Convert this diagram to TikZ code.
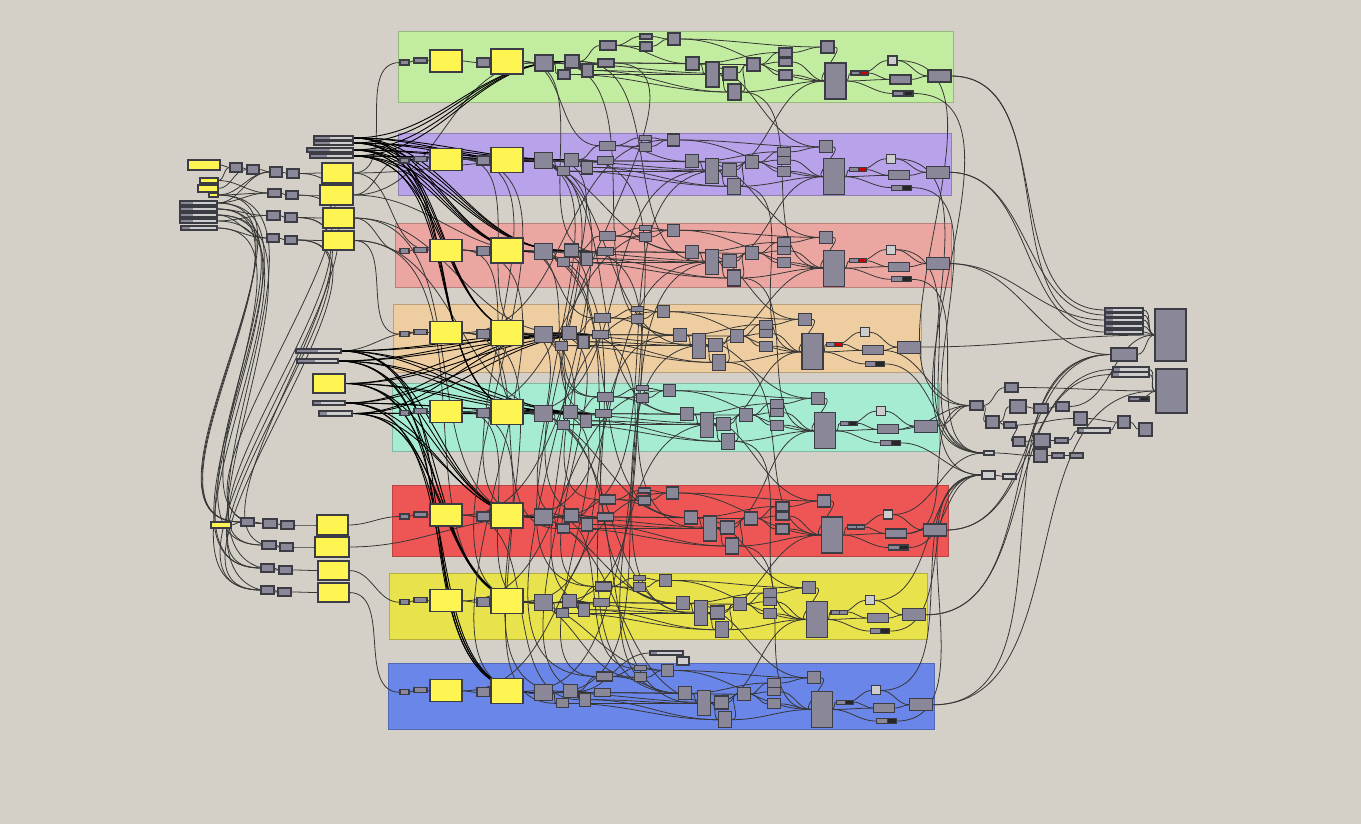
\documentclass[tikz,border=0pt]{standalone}
\usetikzlibrary{calc}

% colours of the canvas
\definecolor{canvas}{HTML}{D4D0C8}
\definecolor{compfill}{HTML}{8A8898}
\definecolor{compline}{HTML}{3C3C44}
\definecolor{panelfill}{HTML}{FFF552}
\definecolor{lightfill}{HTML}{CDCDCD}
\definecolor{wirecol}{HTML}{363636}
\definecolor{grpgreen}{HTML}{C2ECA0}
\definecolor{grppurple}{HTML}{B8A2EA}
\definecolor{grppink}{HTML}{ECA6A2}
\definecolor{grporange}{HTML}{EECEA0}
\definecolor{grpmint}{HTML}{A6ECD2}
\definecolor{grpred}{HTML}{EE5656}
\definecolor{grpyellow}{HTML}{E8E24C}
\definecolor{grpblue}{HTML}{6A86E8}

\pgfdeclarelayer{groups}
\pgfdeclarelayer{wires}
\pgfsetlayers{groups,wires,main}

\tikzset{
  comp/.style={draw=compline, fill=compfill, line width=0.6pt, inner sep=0pt, outer sep=0pt},
  panel/.style={comp, fill=panelfill},
  lightbox/.style={comp, fill=lightfill},
  redbox/.style={comp, fill=red!80!black},
  darkbox/.style={comp, fill=black!85},
  slider/.style={comp, fill=lightfill, path picture={\fill[compfill] (path picture bounding box.south west) rectangle ($(path picture bounding box.north west)!#1!(path picture bounding box.north east)$);}},
  slider/.default=0.35,
  wire/.style={draw=wirecol, line width=0.45pt},
  heavywire/.style={draw=black, line width=0.5pt}
}

% box from corner (x1,y1) to corner (x2,y2), in pixels
\newcommand{\cbox}[6][comp]{\node[#1, minimum width={(#5-#3)*0.02cm}, minimum height={(#6-#4)*0.02cm}] (#2) at ({(#3+#5)/2},{(#4+#6)/2}) {};}

% wires from east to west, names with a common prefix
\newcommand{\linkset}[3][wire]{%
  \begin{pgfonlayer}{wires}
    \foreach \src/\dst in {#3} {\draw[#1] (#2\src.east) to[out=0,in=180] (#2\dst.west);}
  \end{pgfonlayer}}
\newcommand{\links}[2][wire]{\linkset[#1]{}{#2}}

% one coloured group: prefix, x, y, width, height, colour, style of the small tip
\newcommand{\grp}[7]{%
  \begin{pgfonlayer}{groups}
    \fill[#6, draw=#6!78!black, line width=0.5pt] (#2,#3) rectangle ++(#4,#5);
  \end{pgfonlayer}
  \pgfmathsetmacro\grpxs{(#2+#4-398-137)/418}
  \pgfmathsetmacro\grpx{398+137*(1-\grpxs)}
  \pgfmathsetmacro\grpys{#5/71}
  % inputs and the two panels keep their place
  \begin{scope}[shift={(398,#3)}, yscale=\grpys]
    \cbox{#1a}{2}{29}{11}{34}
    \cbox{#1b}{16}{27}{29}{32}
    \cbox[panel]{#1pa}{32}{19}{64}{41}
    \cbox{#1c}{79}{27}{92}{36}
    \cbox[panel]{#1pb}{93}{18}{125}{43}
  \end{scope}
  % the rest follows the width of the group
  \begin{scope}[shift={(\grpx,#3)}, xscale=\grpxs, yscale=\grpys]
    \cbox{#1d}{137}{24}{155}{40}
    \cbox{#1e}{160}{39}{172}{48}
    \cbox{#1f}{167}{24}{181}{37}
    \cbox{#1g}{184}{33}{195}{46}
    \cbox{#1h}{202}{10}{218}{19}
    \cbox{#1i}{200}{28}{216}{36}
    \cbox{#1j}{242}{3}{254}{8}
    \cbox{#1k}{242}{11}{254}{20}
    \cbox{#1l}{270}{2}{282}{14}
    \cbox{#1m}{288}{26}{301}{39}
    \cbox{#1n}{308}{31}{321}{56}
    \cbox{#1o}{325}{36}{339}{49}
    \cbox{#1q}{330}{53}{343}{69}
    \cbox{#1r}{349}{27}{362}{40}
    \cbox{#1s}{381}{17}{394}{26}
    \cbox{#1t}{381}{27}{394}{35}
    \cbox{#1u}{381}{39}{394}{49}
    \cbox{#1v}{423}{10}{436}{22}
    \cbox{#1w}{427}{32}{448}{68}
    \cbox{#1x}{453}{40}{464}{44}
    \cbox[#7]{#1xr}{462}{40}{470}{44}
    \cbox[lightbox]{#1y}{490}{25}{499}{34}
    \cbox{#1z}{492}{44}{513}{53}
    \cbox{#1out}{530}{39}{553}{51}
    \cbox{#1bk}{495}{60}{506}{65}
    \cbox[darkbox]{#1bkb}{506}{60}{515}{65}
  \end{scope}
  \linkset{#1}{a/b,b/pa,pa/c,c/pb,pb/d,d/f,d/e,d/i,f/g,f/h,f/i,e/n,g/n,h/j,h/k,j/l,k/l,h/m,i/m,m/n,n/o,n/q,o/r,q/r,r/s,r/t,r/u,i/r,l/v,s/v,m/s,t/w,u/w,v/w,q/w,l/w,w/x,w/bk,w/z,x/y,xr/z,y/out,z/out,e/q,g/q,d/o}}

\begin{document}
\begin{tikzpicture}[x=0.02cm, y=-0.02cm]
\useasboundingbox (0,0) rectangle (1361,824);
\begin{pgfonlayer}{groups}
  \fill[canvas] (0,0) rectangle (1361,824);
\end{pgfonlayer}

% the eight groups
\grp{G1}{398}{31}{555}{71}{grpgreen}{redbox}
\grp{G2}{398}{133}{553}{62}{grppurple}{redbox}
\grp{G3}{395}{223}{556}{64}{grppink}{redbox}
\grp{G4}{393}{304}{528}{68}{grporange}{redbox}
\grp{G5}{392}{383}{547}{68}{grpmint}{darkbox}
\grp{G6}{392}{485}{556}{71}{grpred}{comp}
\grp{G7}{389}{573}{538}{66}{grpyellow}{comp}
\grp{G8}{388}{663}{546}{66}{grpblue}{darkbox}
\cbox[slider=0.2]{G8sl}{650}{651}{683}{655}
\cbox[lightbox]{G8ex}{677}{657}{689}{665}

% inputs, top left
\cbox[panel]{Y0}{188}{160}{220}{170}
\cbox[panel]{YS1}{200}{178}{218}{183}
\cbox[panel]{YS2}{198}{185}{218}{192}
\cbox[panel]{YS3}{209}{193}{218}{197}
\cbox[slider]{LS1}{180}{201}{217}{205}
\cbox[slider]{LS2}{180}{207}{217}{211}
\cbox[slider]{LS3}{180}{213}{217}{217}
\cbox[slider]{LS4}{180}{219}{217}{223}
\cbox[slider=0.25]{LS5}{181}{226}{217}{230}
\cbox{c1}{230}{163}{242}{172}
\cbox{c2}{247}{165}{259}{174}
\cbox{c3}{270}{167}{282}{177}
\cbox{c4}{287}{169}{299}{178}
\cbox{c5}{268}{189}{281}{197}
\cbox{c6}{286}{191}{298}{199}
\cbox{c7}{267}{211}{280}{220}
\cbox{c8}{285}{213}{297}{222}
\cbox{c9}{267}{234}{279}{242}
\cbox{c10}{285}{236}{297}{244}
\cbox[panel]{L1}{322}{163}{353}{183}
\cbox[panel]{L2}{320}{185}{353}{205}
\cbox[panel]{L3}{323}{208}{354}{228}
\cbox[panel]{L4}{323}{231}{354}{250}
\cbox[slider=0.4]{T1}{314}{136}{353}{140}
\cbox[slider=0.4]{T2}{314}{141}{353}{145}
\cbox[slider=0.5]{T3}{307}{148}{353}{152}
\cbox[slider=0.4]{T4}{310}{154}{353}{158}

% inputs, middle left
\cbox[slider=0.48]{M1}{296}{349}{341}{353}
\cbox[slider=0.45]{M2}{297}{359}{338}{363}
\cbox[panel]{MY}{313}{374}{345}{393}
\cbox[slider=0.25]{M3}{313}{401}{345}{405}
\cbox[slider=0.25]{M4}{319}{411}{352}{416}

% inputs, bottom left
\cbox[panel]{BY}{211}{522}{231}{528}
\cbox{bl1}{241}{518}{254}{526}
\cbox{bl2}{263}{519}{277}{528}
\cbox{bl3}{281}{521}{294}{529}
\cbox{bl4}{262}{541}{276}{549}
\cbox{bl5}{280}{543}{293}{551}
\cbox{bl6}{261}{564}{274}{572}
\cbox{bl7}{279}{566}{292}{574}
\cbox{bl8}{261}{586}{274}{594}
\cbox{bl9}{278}{588}{291}{596}
\cbox[panel]{B1}{317}{515}{348}{535}
\cbox[panel]{B2}{315}{537}{349}{557}
\cbox[panel]{B3}{318}{561}{349}{580}
\cbox[panel]{B4}{318}{583}{349}{602}

% outputs, right
\cbox[slider=0.2]{R1}{1105}{308}{1143}{312}
\cbox[slider=0.2]{R2}{1105}{313}{1143}{317}
\cbox[slider=0.2]{R3}{1105}{318}{1143}{322}
\cbox[slider=0.2]{R4}{1105}{324}{1143}{328}
\cbox[slider=0.2]{R5}{1105}{330}{1143}{334}
\cbox{RB1}{1155}{309}{1186}{361}
\cbox{RG}{1111}{348}{1137}{361}
\cbox[slider=0.2]{R6}{1113}{367}{1149}{372}
\cbox[slider=0.2]{R7}{1112}{372}{1149}{377}
\cbox{RB2}{1156}{369}{1187}{413}
\cbox{RK}{1129}{397}{1140}{401}
\cbox[darkbox]{RKb}{1140}{397}{1149}{401}

% middle right cluster
\cbox{MG1}{1005}{383}{1018}{392}
\cbox{MG2}{970}{401}{983}{410}
\cbox{MG3}{1010}{400}{1026}{413}
\cbox{MG4}{1034}{404}{1048}{413}
\cbox{MG5}{1056}{402}{1069}{411}
\cbox{MG6}{986}{416}{999}{428}
\cbox{MG7}{1004}{422}{1016}{428}
\cbox{MG8}{1013}{437}{1025}{446}
\cbox{MG9}{1034}{434}{1050}{447}
\cbox{MG10}{1034}{449}{1047}{462}
\cbox{MG11}{1055}{438}{1068}{443}
\cbox{MG12}{1052}{453}{1064}{458}
\cbox{MG13}{1070}{453}{1083}{458}
\cbox{MG14}{1074}{412}{1087}{425}
\cbox[slider=0.2]{MS}{1078}{428}{1110}{433}
\cbox{MG15}{1118}{416}{1130}{428}
\cbox{MG16}{1139}{423}{1152}{436}
\cbox[lightbox]{ML1}{984}{451}{994}{455}
\cbox[lightbox]{ML2}{982}{471}{995}{479}
\cbox[lightbox]{ML3}{1003}{474}{1016}{479}

% wires on the left
\links{Y0/c1,c1/c2,c2/c3,c3/c4,c4/L1,YS1/c1,YS2/c2,YS3/c3,c5/c6,c6/L2,c7/c8,c8/L3,c9/c10,c10/L4,LS1/c5,LS2/c7,LS3/c9,LS4/c7,LS5/c9,YS3/c5,LS1/c3,YS1/c5}
\links{L1/G1a,L2/G2a,L3/G3a,L4/G4a,L1/G2d,L2/G3d,L3/G4f,L4/G5f,L2/G1d,L3/G6d,L4/G7d,L1/G3pa}
\links{LS1/bl1,LS2/bl4,LS3/bl6,LS4/bl8,LS5/bl2,YS3/bl1,c8/bl4,c10/bl6,c6/bl8,c4/bl2,c10/bl8,LS1/bl6,LS3/bl9,LS2/bl1,YS3/bl7,c8/bl5}
\links{BY/bl1,bl1/bl2,bl2/bl3,bl3/B1,bl4/bl5,bl5/B2,bl6/bl7,bl7/B3,bl8/bl9,bl9/B4,B1/G6a,B3/G7a,B4/G8a,B2/G6d,M4/G5a,M1/G4b}
\begin{pgfonlayer}{wires}
  \foreach \s in {T1,T2,T3,T4}
    \foreach \d in {G2d,G2f,G3d,G3f,G4d,G5d,G1f}
      \draw[heavywire] (\s.east) to[out=0,in=180] (\d.west);
  \foreach \s in {M1,M2,MY,M3,M4}
    \foreach \d in {G4f,G5f,G6d,G7d,G8d,G5i,G4i}
      \draw[heavywire] (\s.east) to[out=0,in=180] (\d.west);
\end{pgfonlayer}

% wires between the groups
\links{G1pb/G2h,G1pb/G3i,G1d/G4m,G1f/G3n,G1i/G5h,
G2pb/G3m,G2pb/G4n,G2pb/G5m,G2pb/G6i,G2pb/G7h,G2pb/G8h,
G2d/G5h,G2f/G6n,G2pa/G4d,G2pa/G6d,G2pa/G7d,
G3pb/G4h,G3pb/G5i,G3pb/G6m,G3pb/G7m,G3pb/G8m,
G3d/G6h,G3f/G7n,G3pa/G5d,G3pa/G8d,
G4pb/G6f,G4pb/G7i,G4pb/G8i,G4d/G7h,G4f/G8m,G4pa/G6e,G4pa/G8f,
G5pb/G6m,G5pb/G7n,G5pb/G8n,G5d/G8h,G5pa/G7d,G5pa/G8e,
G6pb/G7m,G6pb/G8o,G6d/G8j,G6pa/G8g,G7pb/G8k,G7pb/G8l,
G6pb/G3n,G7pb/G4m,G8pb/G5o,G5pb/G2n,G6d/G2o,G7d/G3o,G8d/G4o,
G8pa/G6l,G7pa/G5l,G6pa/G4l,G5pa/G3l,G4pa/G2l,
G1m/G2v,G2m/G3v,G3m/G4v,G4m/G5v,G5m/G6v,G6m/G7v,G7m/G8v,
G2n/G1w,G3n/G2w,G4n/G3w,G5n/G4w,G6n/G5w,G7n/G6w,G8n/G7w,
G1q/G3w,G3q/G5w,G5q/G7w,G2q/G4w,G4q/G6w,G6q/G8w,G8f/G8sl,G8sl/G8ex}

% wires on the right
\links{G1out/R1,G2out/R2,G3out/R3,G1out/R4,G2out/R5,G4out/RB1,G3out/RG,G6out/RG,G7out/RG,G8out/RG,G6out/R6,G7out/R7,G8out/RB2,
G5out/MG2,G5z/MG2,G4z/MG2,G6z/MG2,G1bkb/ML1,G2bkb/ML1,G3bkb/ML1,G4bkb/ML1,G5bkb/ML2,G6bkb/ML2,G7bkb/ML2,G8bkb/ML2,
G2y/ML1,G3y/ML2,G6y/ML1,G7y/ML2,G8y/ML2,G1y/MG2}
\links{R1/RB1,R2/RB1,R3/RB1,R4/RB1,R5/RB1,RG/RB1,R6/RB2,R7/RB2,RK/RB2,
MG2/MG1,MG2/MG6,MG6/MG3,MG3/MG4,MG4/MG5,MG6/MG7,MG7/MG8,MG8/MG9,MG9/MG11,MG10/MG12,MG12/MG13,MG14/MG15,MS/MG15,MG15/MG16,
MG1/RB2,MG5/RB1,MG11/MS,ML2/ML3,ML1/MG10,MG7/MG14}
\end{tikzpicture}
\end{document}
